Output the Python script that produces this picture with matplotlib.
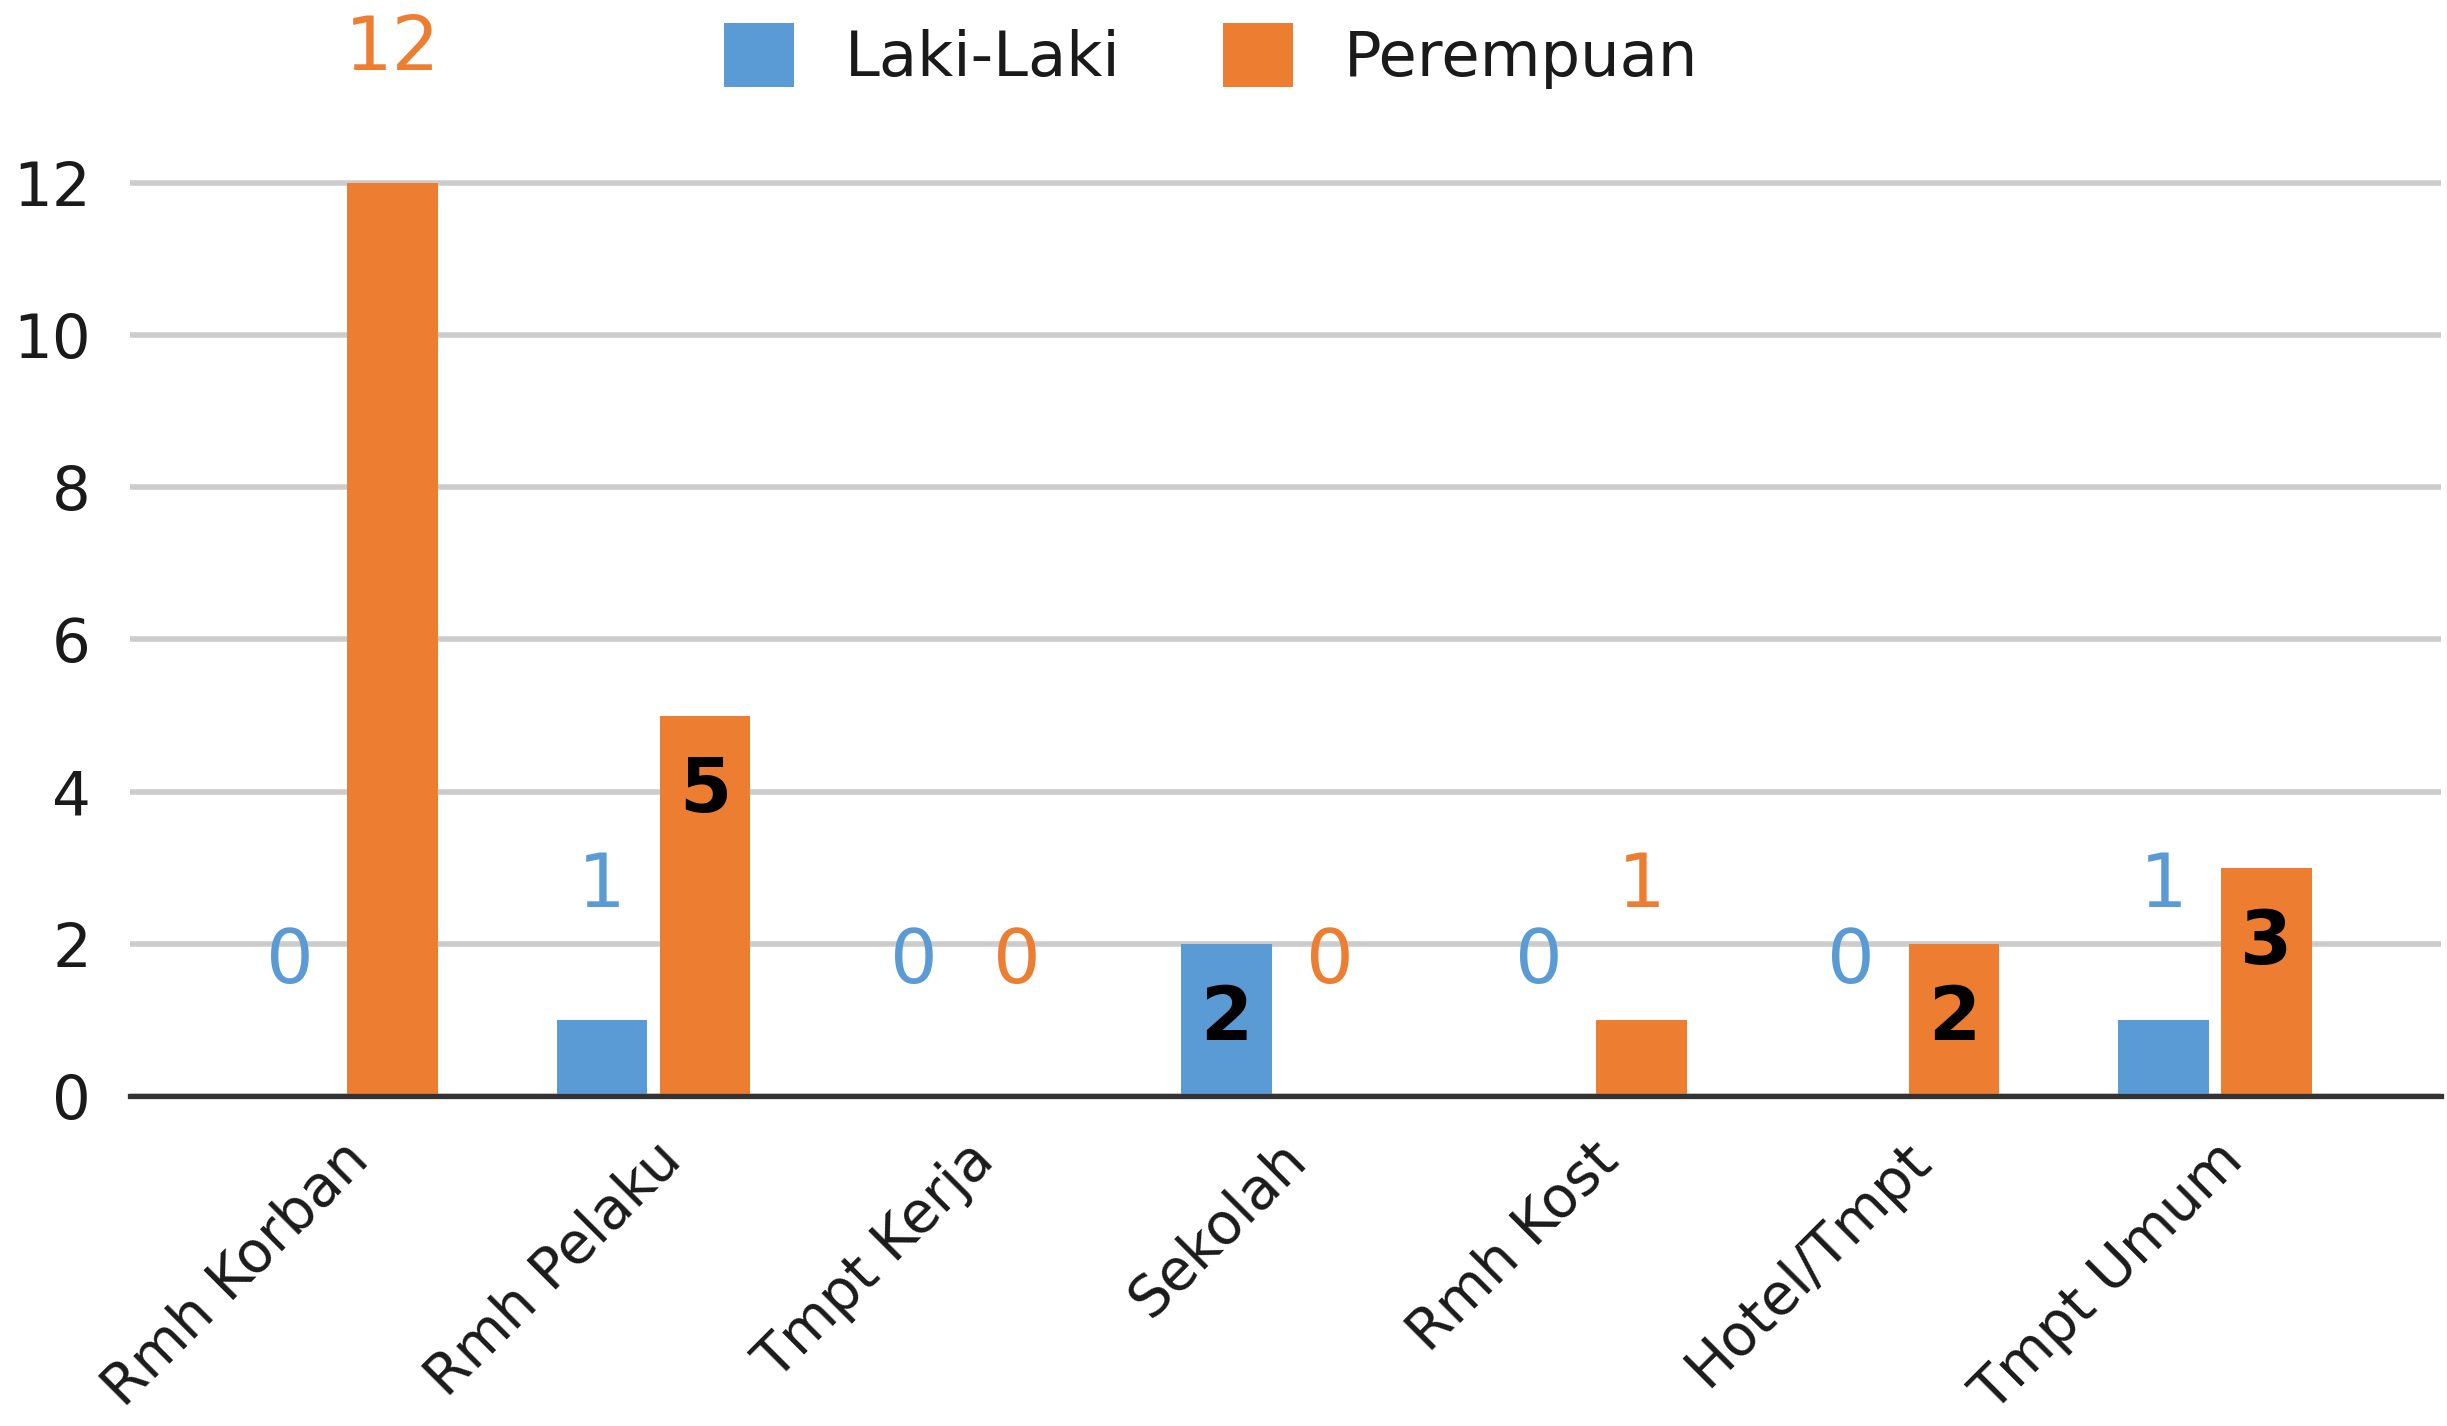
import numpy as np
import matplotlib
matplotlib.use("Agg")
import matplotlib.pyplot as plt

# data
categories = ["Rmh Korban", "Rmh Pelaku", "Tmpt Kerja", "Sekolah",
              "Rmh Kost", "Hotel/Tmpt", "Tmpt Umum"]
laki = [0, 1, 0, 2, 0, 0, 1]
perempuan = [12, 5, 0, 0, 1, 2, 3]
series_names = ["Laki-Laki", "Perempuan"]
colors = ["#5B9BD5", "#ED7D31"]
yticks = [0, 2, 4, 6, 8, 10, 12]

plt.rcParams["font.family"] = ["DejaVu Sans"]

fig = plt.figure(figsize=(24.47, 14.26), dpi=100)
ax = fig.add_axes([0.0531, 0.2314, 0.9444, 0.6723])

x = np.arange(len(categories))
width = 0.29
offset = 0.165
top_val = max(max(laki), max(perempuan))

for vals, name, col, sign in zip([laki, perempuan], series_names, colors, [-1, 1]):
    xs = x + sign * offset
    ax.bar(xs, vals, width, color=col, label=name, zorder=3)
    for xi, v in zip(xs, vals):
        if 1 < v < top_val:
            ax.text(xi, v - 1.0, str(v), ha="center", va="center",
                    fontsize=54, fontweight="bold", color="black", zorder=4)
        else:
            ax.text(xi, v + 1.76, str(v), ha="center", va="center",
                    fontsize=54, color=col, clip_on=False, zorder=4)

ax.set_xlim(-0.676, 6.724)
ax.set_ylim(0, 12.6)
ax.set_yticks(yticks)
ax.set_xticks(x)
ax.set_xticklabels(categories)
ax.yaxis.grid(True, color="#cccccc", linewidth=4)
ax.set_axisbelow(True)

for s in ["left", "right", "top"]:
    ax.spines[s].set_visible(False)
ax.spines["bottom"].set_color("#333333")
ax.spines["bottom"].set_linewidth(3.8)
ax.spines["bottom"].set_zorder(5)

ax.tick_params(axis="y", length=0, pad=28, labelsize=44, labelcolor="#1a1a1a")
ax.tick_params(axis="x", length=0, pad=26, labelsize=41, labelcolor="#1a1a1a")
plt.setp(ax.get_xticklabels(), rotation=45, ha="right", va="top",
         rotation_mode="anchor")

fig.legend(loc="center", bbox_to_anchor=(0.495, 0.961), ncol=2, frameon=False,
           fontsize=45, handlelength=1.12, handleheight=1.2, handletextpad=0.82,
           columnspacing=1.63, borderpad=0, labelcolor="#1a1a1a")

fig.savefig("out.png", dpi=100)
